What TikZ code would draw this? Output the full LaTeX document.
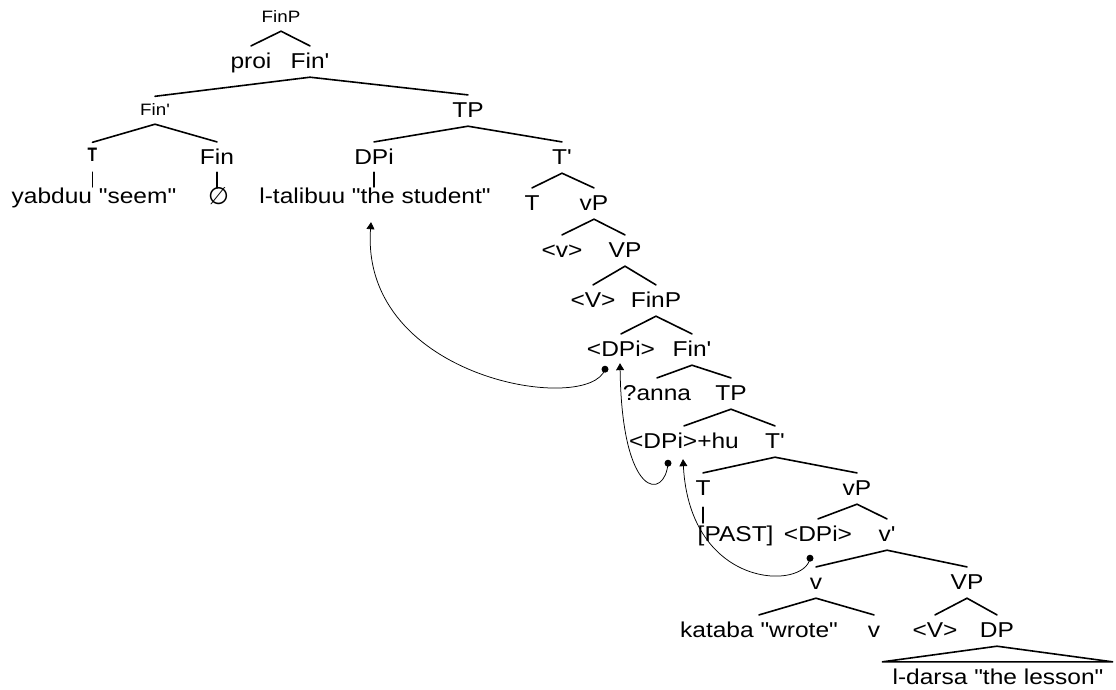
\documentclass[tikz,border=0pt]{standalone}
\usepackage{fontspec}
\newfontfamily\labfont{Liberation Sans}[FakeStretch=1.14]
\newfontfamily\symfont{DejaVu Sans}
\usetikzlibrary{arrows.meta}

\begin{document}
\begin{tikzpicture}[x=1pt,y=-1pt,
  lab/.style={font={\labfont\fontsize{21.5}{24}\selectfont}, anchor=base,
    inner xsep=0pt, inner ysep=4.5pt, text height=17.4pt, text depth=4.5pt},
  slab/.style={font={\labfont\fontsize{16.5}{19}\selectfont}, anchor=base,
    inner xsep=0pt, inner ysep=5pt, text height=13.5pt, text depth=4pt},
  branch/.style={line width=1.6pt, line cap=round, line join=miter},
  movement/.style={line width=0.75pt, -{Triangle[width=8pt,length=7pt]}},
]
\useasboundingbox (0,0) rectangle (1116,689);

% ---------- labels ----------
\node[slab] (finp)    at (281,22)  {FinP};
\node[lab]  (proi)    at (251,68)  {proi};
\node[lab]  (finbar)  at (310,68)  {Fin'};
\node[slab] (fina)    at (155,115) {Fin'};
\node[lab]  (tp)      at (468,117) {TP};
\node[slab, font={\labfont\bfseries\fontsize{19.5}{21}\selectfont}] (tv) at (92.5,161)
  {\scalebox{0.7}[1]{T}};
\node[lab]  (fin)     at (217,164) {Fin};
\node[lab]  (dpi)     at (374,164) {DPi};
\node[lab]  (tbar)    at (562,164) {T'};
\node[lab]  (seem)    at (94,203)  {yabduu "seem"};
\node[lab, font={\symfont\fontsize{24}{26}\selectfont}] (null) at (218.5,204) {∅};
\node[lab]  (student) at (375,203) {l-talibuu "the student"};
\node[lab]  (t1)      at (532,210) {T};
\node[lab]  (vp1)     at (594,210) {vP};
\node[lab]  (v1)      at (562,257) {<v>};
\node[lab]  (bigvp1)  at (625,257) {VP};
\node[lab]  (bigv1)   at (593,307) {<V>};
\node[lab]  (finp2)   at (656,307) {FinP};
\node[lab]  (dpi2)    at (621,356) {<DPi>};
\node[lab]  (finbar2) at (692,356) {Fin'};
\node[lab]  (anna)    at (657,400) {?anna};
\node[lab]  (tp2)     at (731,400) {TP};
\node[lab]  (dpihu)   at (684,448) {<DPi>+hu};
\node[lab]  (tbar2)   at (775,448) {T'};
\node[lab]  (t2)      at (703,495) {T};
\node[lab]  (vp2)     at (857,495) {vP};
\node[lab, anchor=base west] (past) at (697.5,541) {[PAST]};
\node[lab]  (dpi3)    at (818,541) {<DPi>};
\node[lab]  (vbar)    at (887,541) {v'};
\node[lab]  (v2)      at (816,589) {v};
\node[lab]  (bigvp2)  at (967,589) {VP};
\node[lab]  (kataba)  at (759,637) {kataba "wrote"};
\node[lab]  (v3)      at (874,637) {v};
\node[lab]  (bigv2)   at (935,637) {<V>};
\node[lab]  (dp)      at (997,637) {DP};
\node[lab]  (darsa)   at (998,684) {l-darsa "the lesson"};

% ---------- branches ----------
\foreach \p/\l/\r in {finp/proi/finbar, finbar/fina/tp, fina/tv/fin,
    tp/dpi/tbar, tbar/t1/vp1, vp1/v1/bigvp1, bigvp1/bigv1/finp2,
    finp2/dpi2/finbar2, finbar2/anna/tp2, tp2/dpihu/tbar2, tbar2/t2/vp2,
    vp2/dpi3/vbar, vbar/v2/bigvp2, v2/kataba/v3, bigvp2/bigv2/dp}
  \draw[branch] (\l.north) -- (\p.south) -- (\r.north);

% unary bars
\draw[branch, shorten <=2pt, shorten >=-6pt] (tv.south)  -- (tv.south  |- seem.north);
\draw[branch, shorten <=-1pt, shorten >=-6pt] (fin.south) -- (fin.south |- null.north);
\draw[branch, shorten <=-1pt, shorten >=-6pt] (dpi.south) -- (dpi.south |- student.north);
\draw[branch, shorten <=3pt, shorten >=-4pt] (t2.south)  -- (t2.south  |- past.north);

% phrase triangle
\draw[branch] (dp.south) -- ([xshift=-10.5pt]darsa.north west)
  -- ([xshift=9.5pt]darsa.north east) -- cycle;

% ---------- movement arrows ----------
\coordinate (d1) at ([shift={(-16pt,-4pt)}]dpi2.south);
\coordinate (a1) at ([shift={(-4pt,-10pt)}]student.south);
\coordinate (d2) at ([shift={(-16pt,-6pt)}]dpihu.south);
\coordinate (a2) at ([shift={(-1pt,2pt)}]dpi2.south);
\coordinate (d3) at ([shift={(-8pt,-8pt)}]dpi3.south);
\coordinate (a3) at ([shift={(-1pt,-2pt)}]dpihu.south);

\draw[movement] (d1) .. controls +(-15,46) and +(-11,158) .. (a1);
\draw[movement] (d2) .. controls +(-3,37) and +(2,137) .. (a2);
\draw[movement] (d3) .. controls +(-5,32) and +(7,131) .. (a3);

\foreach \d in {d1,d2,d3}
  \fill (\d) circle[radius=3.5pt];
\end{tikzpicture}
\end{document}
